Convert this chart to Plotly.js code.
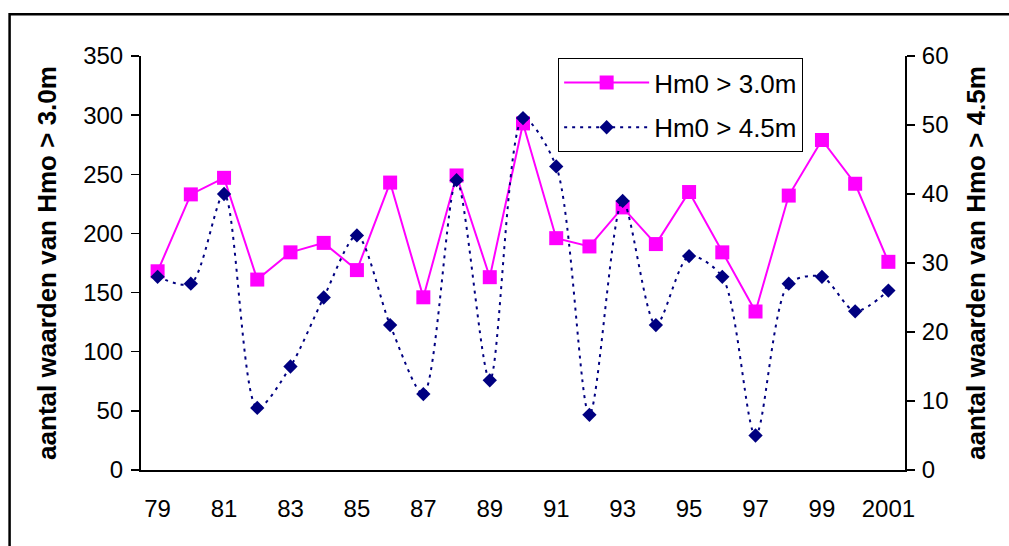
<!DOCTYPE html>
<html>
<head>
<meta charset="utf-8">
<script src="https://cdn.plot.ly/plotly-3.0.1.min.js"></script>
<style>
html,body{margin:0;padding:0;background:#fff;}
#chart{width:1009px;height:546px;}
</style>
</head>
<body>
<div id="chart"></div>
<script>
// ---- data ----
var years = [1979,1980,1981,1982,1983,1984,1985,1986,1987,1988,1989,1990,1991,1992,1993,1994,1995,1996,1997,1998,1999,2000,2001];
var hm0_30 = [168,233,247,161,184,192,169,243,146,249,163,293,196,189,222,191,235,184,134,232,279,242,176];
var hm0_45 = [28,27,40,9,15,25,34,21,11,42,13,51,44,8,39,21,31,28,5,27,28,23,26];
var labelYears = [1979,1981,1983,1985,1987,1989,1991,1993,1995,1997,1999,2001];
var labelText = ['79','81','83','85','87','89','91','93','95','97','99','2001'];
var seriesNames = ['Hm0 > 3.0m','Hm0 > 4.5m'];
var leftTitle = 'aantal waarden van Hmo > 3.0m';
var rightTitle = 'aantal waarden van Hmo > 4.5m';

// category boundaries for Excel-style ticks
var bounds = [];
for (var i = 0; i <= years.length; i++) bounds.push(years[0] - 0.5 + i);
var xr = [years[0] - 0.5, years[years.length - 1] + 0.5];

var FONT = 'Liberation Sans, Arial, sans-serif';

var traces = [
  {
    x: years, y: hm0_30, name: seriesNames[0], type: 'scatter', mode: 'lines+markers',
    line: {color: '#FF00FF', width: 2},
    marker: {symbol: 'square', size: 14, color: '#FF00FF'},
    xaxis: 'x', yaxis: 'y', legendgroup: 'a'
  },
  {
    x: years, y: hm0_45, name: seriesNames[1], type: 'scatter', mode: 'lines+markers',
    line: {color: '#000080', width: 2, dash: '3px,5px', shape: 'spline', smoothing: 0.8},
    marker: {symbol: 'diamond', size: 11, color: '#000080'},
    xaxis: 'x', yaxis: 'y2', legendgroup: 'b'
  }
];

var tickFont = {family: FONT, size: 24, color: '#000'};
var titleFont = {family: FONT, size: 26, color: '#000', weight: 'bold'};

var layout = {
  width: 1009, height: 546,
  margin: {l: 141, r: 104, t: 56, b: 76},
  paper_bgcolor: '#fff', plot_bgcolor: '#fff',
  font: {family: FONT, color: '#000'},
  showlegend: true,
  legend: {
    x: 0.546, y: 0.995, xanchor: 'left', yanchor: 'top',
    bordercolor: '#000', borderwidth: 1, bgcolor: '#fff',
    font: {family: FONT, size: 26, color: '#000'},
    itemwidth: 85, tracegroupgap: 8
  },
  xaxis: {
    range: xr, tickmode: 'array', tickvals: labelYears, ticktext: labelText,
    ticks: '', showgrid: false, zeroline: false,
    showline: true, linecolor: '#000', linewidth: 2,
    tickfont: tickFont, ticklabelstandoff: 16
  },
  xaxis2: {
    overlaying: 'x', anchor: 'y', side: 'bottom', range: xr,
    tickmode: 'array', tickvals: bounds, ticks: 'outside', ticklen: 7, tickwidth: 1.5, tickcolor: '#000',
    showticklabels: false, showgrid: false, zeroline: false, showline: false
  },
  xaxis3: {
    overlaying: 'x', anchor: 'y', side: 'bottom', range: xr,
    tickmode: 'array', tickvals: bounds, ticks: 'inside', ticklen: 7, tickwidth: 1.5, tickcolor: '#000',
    showticklabels: false, showgrid: false, zeroline: false, showline: false
  },
  xaxis4: {
    overlaying: 'x', anchor: 'y', side: 'top', range: xr,
    ticks: '', showticklabels: false, showgrid: false, zeroline: false,
    showline: true, linecolor: '#8c8c8c', linewidth: 2
  },
  yaxis: {
    range: [0, 350], dtick: 50, tick0: 0, ticks: 'outside', ticklen: 8, tickwidth: 1.5, tickcolor: '#000',
    showgrid: false, zeroline: false, showline: true, linecolor: '#000', linewidth: 2,
    tickfont: tickFont, ticklabelstandoff: 3,
    title: {text: leftTitle, font: titleFont, standoff: 19}
  },
  yaxis2: {
    overlaying: 'y', side: 'right', anchor: 'x', range: [0, 60], dtick: 10, tick0: 0,
    ticks: 'outside', ticklen: 8, tickwidth: 1.5, tickcolor: '#000',
    showgrid: false, zeroline: false, showline: true, linecolor: '#000', linewidth: 2,
    tickfont: tickFont, ticklabelstandoff: 2,
    title: {text: rightTitle, font: titleFont, standoff: 19}
  },
  yaxis3: {
    overlaying: 'y', side: 'left', anchor: 'x', range: [0, 350], dtick: 50, tick0: 0,
    ticks: 'inside', ticklen: 8, tickwidth: 1.5, tickcolor: '#000',
    showticklabels: false, showgrid: false, zeroline: false, showline: false
  },
  yaxis4: {
    overlaying: 'y', side: 'right', anchor: 'x', range: [0, 60], dtick: 10, tick0: 0,
    ticks: 'inside', ticklen: 8, tickwidth: 1.5, tickcolor: '#000',
    showticklabels: false, showgrid: false, zeroline: false, showline: false
  },
  shapes: [
    {type: 'rect', xref: 'paper', yref: 'paper', x0: -0.172, x1: 2, y0: -2, y1: 1.101,
     line: {color: '#000', width: 2.5}, fillcolor: 'rgba(0,0,0,0)', layer: 'below'}
  ]
};

Plotly.newPlot('chart', traces, layout, {staticPlot: true, displayModeBar: false});
</script>
</body>
</html>
